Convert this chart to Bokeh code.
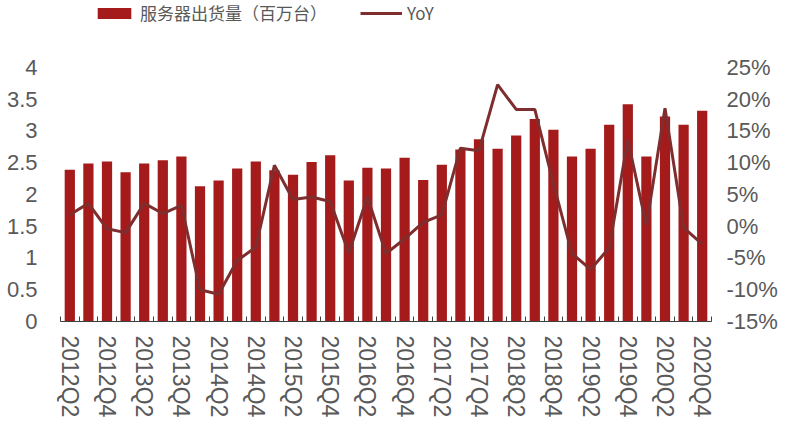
from bokeh.plotting import figure
from bokeh.models import (ColumnDataSource, Range1d, LinearAxis, FixedTicker,
                          Legend, LegendItem)
from bokeh.embed import file_html
from bokeh.resources import INLINE

quarters = ["2012Q2", "2012Q3", "2012Q4",
            "2013Q1", "2013Q2", "2013Q3", "2013Q4",
            "2014Q1", "2014Q2", "2014Q3", "2014Q4",
            "2015Q1", "2015Q2", "2015Q3", "2015Q4",
            "2016Q1", "2016Q2", "2016Q3", "2016Q4",
            "2017Q1", "2017Q2", "2017Q3", "2017Q4",
            "2018Q1", "2018Q2", "2018Q3", "2018Q4",
            "2019Q1", "2019Q2", "2019Q3", "2019Q4",
            "2020Q1", "2020Q2", "2020Q3", "2020Q4"]

shipments = [2.39, 2.49, 2.52, 2.35, 2.49, 2.54, 2.60, 2.13, 2.22, 2.41,
             2.52, 2.38, 2.31, 2.51, 2.62, 2.22, 2.42, 2.41, 2.58, 2.23,
             2.47, 2.71, 2.87, 2.72, 2.93, 3.19, 3.02, 2.60, 2.72, 3.10,
             3.42, 2.60, 3.23, 3.10, 3.32]

yoy = [1.8, 3.6, -0.4, -1.0, 3.6, 2.0, 3.3, -10.0, -10.7, -5.4,
       -3.3, 9.6, 4.2, 4.6, 3.9, -4.2, 4.6, -4.3, -2.0, 0.6,
       1.8, 12.3, 11.9, 22.3, 18.4, 18.4, 6.7, -4.3, -6.8, -3.4,
       13.6, 0.1, 18.6, -0.2, -2.8]

left_ticks = [0, 0.5, 1, 1.5, 2, 2.5, 3, 3.5, 4]
left_labels = ["0", "0.5", "1", "1.5", "2", "2.5", "3", "3.5", "4"]
right_ticks = [-15, -10, -5, 0, 5, 10, 15, 20, 25]
right_labels = ["-15%", "-10%", "-5%", "0%", "5%", "10%", "15%", "20%", "25%"]

bar_name = "服务器出货量（百万台）"
line_name = "YoY"

BAR_COLOR = "#A51A1A"
LINE_COLOR = "#7E2E2E"
TEXT_COLOR = "#595959"
FONT = "Liberation Sans"

# frame spans the full top of the canvas (legend sits inside it);
# the axes show only 0..4 and -15%..25%, headroom above holds the legend
LEFT_MAX = 5.055
RIGHT_MIN, RIGHT_MAX = -15, 35.55

n = len(quarters)
x = list(range(n))
src = ColumnDataSource(dict(x=x, ship=shipments, yoy=yoy))

p = figure(width=800, height=427, output_backend="svg", toolbar_location=None,
           x_range=Range1d(-0.5, n - 0.5), y_range=Range1d(0, LEFT_MAX),
           min_border_left=60, min_border_right=89, min_border_top=0,
           min_border_bottom=106)
p.extra_y_ranges = {"yoy": Range1d(RIGHT_MIN, RIGHT_MAX)}
p.outline_line_color = None
p.xgrid.visible = False
p.ygrid.visible = False
p.background_fill_color = "white"
p.border_fill_color = "white"

bars = p.vbar(x="x", top="ship", width=0.55, source=src,
              fill_color=BAR_COLOR, line_color=None)
line = p.line(x="x", y="yoy", source=src, y_range_name="yoy",
              line_color=LINE_COLOR, line_width=3)

# x axis
xa = p.xaxis[0]
xa.ticker = FixedTicker(ticks=list(range(0, n, 2)),
                        minor_ticks=[i - 0.5 for i in range(n + 1)])
xa.major_label_overrides = {i: quarters[i] for i in range(0, n, 2)}
xa.major_label_orientation = "vertical"
xa.major_tick_line_color = None
xa.major_tick_in = 0
xa.major_tick_out = 0
xa.minor_tick_line_color = "#404040"
xa.minor_tick_in = 5
xa.minor_tick_out = 0
xa.axis_line_color = "#404040"
xa.major_label_standoff = 14
xa.major_label_text_font = FONT
xa.major_label_text_font_size = "23px"
xa.major_label_text_color = TEXT_COLOR

# left y axis
ya = p.yaxis[0]
ya.ticker = FixedTicker(ticks=left_ticks)
ya.major_label_overrides = {t: l for t, l in zip(left_ticks, left_labels)}
ya.axis_line_color = None
ya.major_tick_line_color = None
ya.minor_tick_line_color = None
ya.major_tick_in = 0
ya.major_tick_out = 0
ya.major_label_standoff = 23
ya.major_label_text_font = FONT
ya.major_label_text_font_size = "22px"
ya.major_label_text_color = TEXT_COLOR

# right y axis
ra = LinearAxis(y_range_name="yoy", ticker=FixedTicker(ticks=right_ticks))
ra.major_label_overrides = {t: l for t, l in zip(right_ticks, right_labels)}
ra.axis_line_color = None
ra.major_tick_line_color = None
ra.minor_tick_line_color = None
ra.major_tick_in = 0
ra.major_tick_out = 0
ra.major_label_standoff = 15
ra.major_label_text_font = FONT
ra.major_label_text_font_size = "22px"
ra.major_label_text_color = TEXT_COLOR
p.add_layout(ra, "right")

legend = Legend(items=[LegendItem(label=bar_name, renderers=[bars]),
                       LegendItem(label=line_name, renderers=[line])],
                orientation="horizontal", location=(33, 296),
                glyph_width=42, glyph_height=14, label_standoff=5,
                spacing=33, padding=0, margin=0, label_height=20,
                border_line_color=None, background_fill_alpha=0,
                label_text_font="Noto Sans CJK SC",
                label_text_font_size="17px", label_text_color=TEXT_COLOR)
p.add_layout(legend, "center")

open("out.html", "w").write(file_html(p, INLINE))
